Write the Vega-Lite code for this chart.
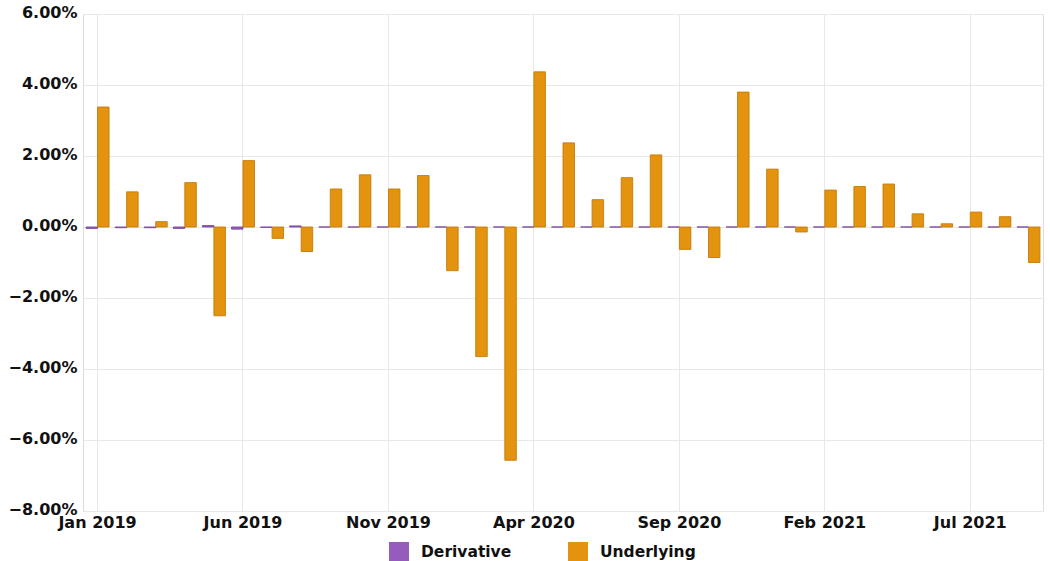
{
  "$schema": "https://vega.github.io/schema/vega-lite/v6.json",
  "width": 960,
  "height": 497,
  "autosize": {"type": "none"},
  "padding": {"left": 83, "top": 14, "right": 7, "bottom": 50},
  "background": "white",
  "config": {
    "font": "DejaVu Sans",
    "view": {"stroke": "#dddddd", "strokeWidth": 1},
    "axis": {
      "labelFont": "DejaVu Sans",
      "labelFontWeight": "bold",
      "labelFontSize": 16,
      "labelColor": "#111111",
      "gridColor": "#e8e8e8",
      "gridWidth": 1,
      "domain": false,
      "ticks": false,
      "title": null
    },
    "legend": {
      "labelFont": "DejaVu Sans",
      "labelFontWeight": "bold",
      "labelFontSize": 15.5,
      "labelColor": "#111111"
    }
  },
  "data": {
    "values": [
      {"month": "Jan 2019", "series": "Derivative", "value": -0.0004},
      {"month": "Jan 2019", "series": "Underlying", "value": 0.0338},
      {"month": "Feb 2019", "series": "Derivative", "value": -0.0002},
      {"month": "Feb 2019", "series": "Underlying", "value": 0.0099},
      {"month": "Mar 2019", "series": "Derivative", "value": -0.0002},
      {"month": "Mar 2019", "series": "Underlying", "value": 0.0015},
      {"month": "Apr 2019", "series": "Derivative", "value": -0.0004},
      {"month": "Apr 2019", "series": "Underlying", "value": 0.0125},
      {"month": "May 2019", "series": "Derivative", "value": 0.0004},
      {"month": "May 2019", "series": "Underlying", "value": -0.0250},
      {"month": "Jun 2019", "series": "Derivative", "value": -0.0006},
      {"month": "Jun 2019", "series": "Underlying", "value": 0.0187},
      {"month": "Jul 2019", "series": "Derivative", "value": -0.0001},
      {"month": "Jul 2019", "series": "Underlying", "value": -0.0032},
      {"month": "Aug 2019", "series": "Derivative", "value": 0.0003},
      {"month": "Aug 2019", "series": "Underlying", "value": -0.0069},
      {"month": "Sep 2019", "series": "Derivative", "value": 0},
      {"month": "Sep 2019", "series": "Underlying", "value": 0.0107},
      {"month": "Oct 2019", "series": "Derivative", "value": 0},
      {"month": "Oct 2019", "series": "Underlying", "value": 0.0147},
      {"month": "Nov 2019", "series": "Derivative", "value": 0},
      {"month": "Nov 2019", "series": "Underlying", "value": 0.0107},
      {"month": "Dec 2019", "series": "Derivative", "value": 0},
      {"month": "Dec 2019", "series": "Underlying", "value": 0.0145},
      {"month": "Jan 2020", "series": "Derivative", "value": 0},
      {"month": "Jan 2020", "series": "Underlying", "value": -0.0123},
      {"month": "Feb 2020", "series": "Derivative", "value": 0},
      {"month": "Feb 2020", "series": "Underlying", "value": -0.0365},
      {"month": "Mar 2020", "series": "Derivative", "value": 0},
      {"month": "Mar 2020", "series": "Underlying", "value": -0.0657},
      {"month": "Apr 2020", "series": "Derivative", "value": 0},
      {"month": "Apr 2020", "series": "Underlying", "value": 0.0437},
      {"month": "May 2020", "series": "Derivative", "value": 0},
      {"month": "May 2020", "series": "Underlying", "value": 0.0237},
      {"month": "Jun 2020", "series": "Derivative", "value": 0},
      {"month": "Jun 2020", "series": "Underlying", "value": 0.0077},
      {"month": "Jul 2020", "series": "Derivative", "value": 0},
      {"month": "Jul 2020", "series": "Underlying", "value": 0.0139},
      {"month": "Aug 2020", "series": "Derivative", "value": 0},
      {"month": "Aug 2020", "series": "Underlying", "value": 0.0203},
      {"month": "Sep 2020", "series": "Derivative", "value": 0},
      {"month": "Sep 2020", "series": "Underlying", "value": -0.0063},
      {"month": "Oct 2020", "series": "Derivative", "value": 0},
      {"month": "Oct 2020", "series": "Underlying", "value": -0.0086},
      {"month": "Nov 2020", "series": "Derivative", "value": 0},
      {"month": "Nov 2020", "series": "Underlying", "value": 0.0380},
      {"month": "Dec 2020", "series": "Derivative", "value": 0},
      {"month": "Dec 2020", "series": "Underlying", "value": 0.0163},
      {"month": "Jan 2021", "series": "Derivative", "value": 0},
      {"month": "Jan 2021", "series": "Underlying", "value": -0.0014},
      {"month": "Feb 2021", "series": "Derivative", "value": 0},
      {"month": "Feb 2021", "series": "Underlying", "value": 0.0104},
      {"month": "Mar 2021", "series": "Derivative", "value": 0},
      {"month": "Mar 2021", "series": "Underlying", "value": 0.0114},
      {"month": "Apr 2021", "series": "Derivative", "value": 0},
      {"month": "Apr 2021", "series": "Underlying", "value": 0.0121},
      {"month": "May 2021", "series": "Derivative", "value": 0},
      {"month": "May 2021", "series": "Underlying", "value": 0.0037},
      {"month": "Jun 2021", "series": "Derivative", "value": 0},
      {"month": "Jun 2021", "series": "Underlying", "value": 0.0009},
      {"month": "Jul 2021", "series": "Derivative", "value": 0},
      {"month": "Jul 2021", "series": "Underlying", "value": 0.0042},
      {"month": "Aug 2021", "series": "Derivative", "value": 0},
      {"month": "Aug 2021", "series": "Underlying", "value": 0.0029},
      {"month": "Sep 2021", "series": "Derivative", "value": 0},
      {"month": "Sep 2021", "series": "Underlying", "value": -0.0100}
    ]
  },
  "mark": {"type": "bar", "strokeWidth": 1, "strokeOpacity": 0.9},
  "encoding": {
    "x": {
      "field": "month",
      "type": "ordinal",
      "sort": null,
      "scale": {"paddingInner": 0, "paddingOuter": 0},
      "axis": {
        "values": ["Jan 2019", "Jun 2019", "Nov 2019", "Apr 2020", "Sep 2020", "Feb 2021", "Jul 2021"],
        "labelAngle": 0,
        "labelPadding": 3,
        "grid": true,
        "bandPosition": 0.5
      }
    },
    "xOffset": {
      "field": "series",
      "type": "nominal",
      "scale": {"paddingInner": 0, "paddingOuter": 0.265}
    },
    "y": {
      "field": "value",
      "type": "quantitative",
      "scale": {"domain": [-0.08, 0.06], "nice": false, "zero": false},
      "axis": {
        "values": [-0.08, -0.06, -0.04, -0.02, 0, 0.02, 0.04, 0.06],
        "format": ".2%",
        "labelPadding": 6,
        "labelOffset": -2,
        "grid": true
      }
    },
    "color": {
      "field": "series",
      "type": "nominal",
      "scale": {"domain": ["Derivative", "Underlying"], "range": ["#955bbd", "#e4930f"]},
      "legend": {
        "title": null,
        "orient": "none",
        "direction": "horizontal",
        "legendX": 306,
        "legendY": 528,
        "symbolType": "square",
        "symbolSize": 400,
        "symbolStrokeWidth": 0,
        "symbolOpacity": 1,
        "labelOffset": 12,
        "columnPadding": 56
      }
    },
    "stroke": {
      "field": "series",
      "type": "nominal",
      "scale": {"domain": ["Derivative", "Underlying"], "range": ["#7a479e", "#c47c08"]},
      "legend": null
    }
  }
}
